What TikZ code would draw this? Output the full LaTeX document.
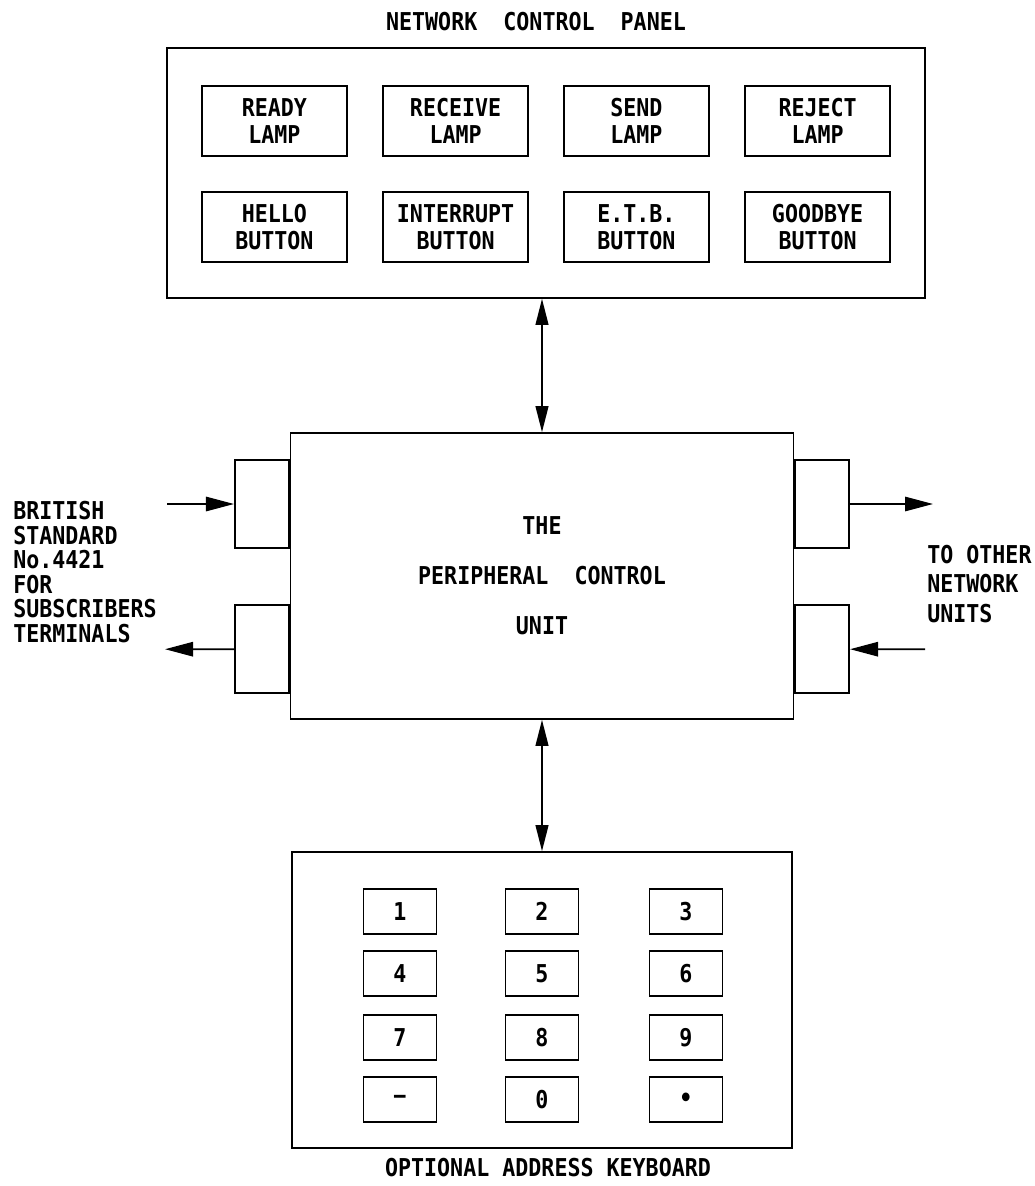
\documentclass[tikz,border=0pt]{standalone}
\usepackage{fontspec}
\setmainfont{DejaVu Sans Mono}[FakeStretch=0.88]
\usepackage{tikz}
\usetikzlibrary{arrows.meta, positioning, calc}
\tikzset{
  panel/.style={rectangle, draw=black, line width=1.2pt,
                minimum width=18.95cm, minimum height=6.25cm},
  lamp/.style={rectangle, draw=black, line width=1.2pt,
               minimum width=3.625cm, minimum height=1.75cm, align=center,
               font=\fontsize{17.5}{19.5}\selectfont\bfseries},
  keycap/.style={rectangle, draw=black, line width=1.2pt,
                 minimum width=1.825cm, minimum height=1.125cm,
                 font=\fontsize{17.5}{18}\selectfont\bfseries},
  port/.style={rectangle, draw=black, line width=1.2pt,
               minimum width=1.35cm, minimum height=2.2cm},
  arrow/.style={-{Triangle[length=7mm, width=3.6mm]}, draw=black, line width=1.2pt},
  darrow/.style={{Triangle[length=6.5mm, width=3.2mm]}-{Triangle[length=6.5mm, width=3.2mm]},
                 draw=black, line width=1.2pt},
  caption/.style={font=\fontsize{17.5}{18}\selectfont\bfseries, inner sep=0pt},
}

\begin{document}
\begin{tikzpicture}[
  unit/.style={rectangle, draw=black, line width=1.2pt,
               minimum width=12.575cm, minimum height=7.15cm, align=center,
               font=\fontsize{17.5}{35.5}\selectfont\bfseries},
  side/.style={caption, align=left, anchor=west}
]
  \useasboundingbox (0,0) rectangle (25.85,-29.65);

  % network control panel
  \node[caption] (T) at (13.4,-0.54) {NETWORK\ \ CONTROL\ \ PANEL};
  \node[panel] (P) at (13.65,-4.325) {};

  \node[lamp] (L1) at (6.86,-3.025) {READY\\LAMP};
  \node[lamp] (L2) at (11.39,-3.025) {RECEIVE\\LAMP};
  \node[lamp] (L3) at (15.91,-3.025) {SEND\\LAMP};
  \node[lamp] (L4) at (20.44,-3.025) {REJECT\\LAMP};
  \node[lamp] (B1) at (6.86,-5.675) {HELLO\\BUTTON};
  \node[lamp] (B2) at (11.39,-5.675) {INTERRUPT\\BUTTON};
  \node[lamp] (B3) at (15.91,-5.675) {E.T.B.\\BUTTON};
  \node[lamp] (B4) at (20.44,-5.675) {GOODBYE\\BUTTON};

  % peripheral control unit with its ports
  \node[unit] (U) at (13.55,-14.4) {THE\\PERIPHERAL\ \ CONTROL\\UNIT};
  \node[port, anchor=east] (LA) at ($(U.west)+(0,1.8)$) {};
  \node[port, anchor=east] (LB) at ($(U.west)+(0,-1.83)$) {};
  \node[port, anchor=west] (RA) at ($(U.east)+(0,1.8)$) {};
  \node[port, anchor=west] (RB) at ($(U.east)+(0,-1.83)$) {};

  \coordinate (inL) at (4.175,-12.6);
  \coordinate (outL) at (4.125,-16.23);
  \coordinate (outR) at (23.325,-12.6);
  \coordinate (inR) at (23.125,-16.23);

  \draw[arrow] (inL) -- (LA.west);
  \draw[arrow] (LB.west) -- (outL);
  \draw[arrow] (RA.east) -- (outR);
  \draw[arrow] (inR) -- (RB.east);

  \node[side, font=\fontsize{17.5}{17.5}\selectfont\bfseries] (SL) at (0.325,-14.3)
    {BRITISH\\STANDARD\\No.4421\\FOR\\SUBSCRIBERS\\TERMINALS};
  \node[side, font=\fontsize{17.5}{21}\selectfont\bfseries] (SR) at (23.175,-14.6)
    {TO OTHER\\NETWORK\\UNITS};

  % optional address keyboard
  \node[rectangle, draw=black, line width=1.2pt, minimum width=12.5cm,
        minimum height=7.4cm] (KB) at (13.55,-25.0) {};

  \node[keycap] (k1) at (10.0,-22.79) {1};
  \node[keycap] (k2) at (13.55,-22.79) {2};
  \node[keycap] (k3) at (17.15,-22.79) {3};
  \node[keycap] (k4) at (10.0,-24.34) {4};
  \node[keycap] (k5) at (13.55,-24.34) {5};
  \node[keycap] (k6) at (17.15,-24.34) {6};
  \node[keycap] (k7) at (10.0,-25.94) {7};
  \node[keycap] (k8) at (13.55,-25.94) {8};
  \node[keycap] (k9) at (17.15,-25.94) {9};
  \node[keycap] (km) at (10.0,-27.49) {−};
  \node[keycap] (k0) at (13.55,-27.49) {0};
  \node[keycap] (kd) at (17.15,-27.49) {•};

  \node[caption] (KT) at (13.7,-29.2) {OPTIONAL ADDRESS KEYBOARD};

  \draw[darrow] (U.north |- P.south) -- (U.north);
  \draw[darrow] (U.south) -- (KB.north);
\end{tikzpicture}
\end{document}
